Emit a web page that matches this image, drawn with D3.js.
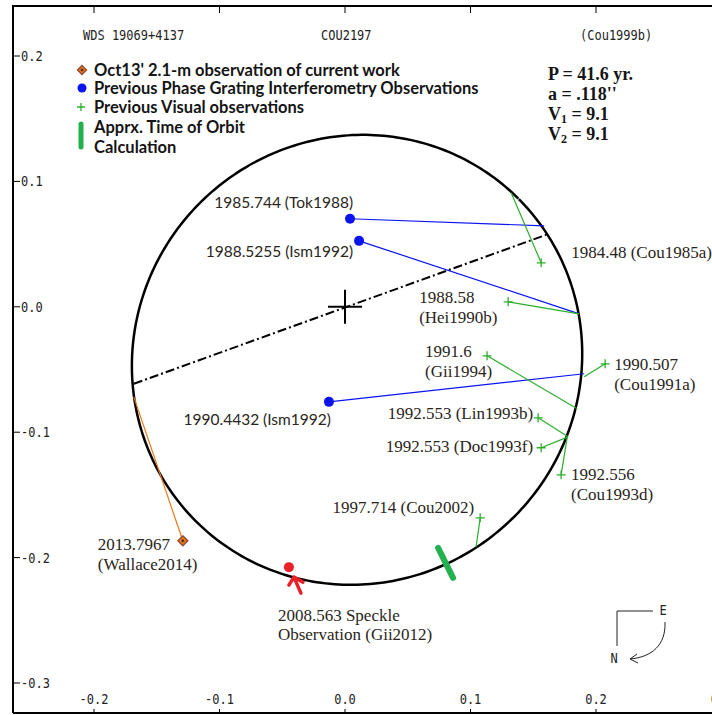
<!DOCTYPE html>
<html lang="en">
<head>
<meta charset="utf-8">
<title>WDS 19069+4137 orbit</title>
<script src="https://d3js.org/d3.v7.min.js"></script>
<style>
    body { margin: 0; background: #fff; }
    svg { display: block; }
    .mono { font-family: "DejaVu Sans Mono", "Liberation Mono", monospace; font-size: 12px; fill: #222; }
    .sans { font-family: Lato, "Open Sans", sans-serif; font-size: 15.5px; fill: #2a2520; }
    .serif { font-family: "Liberation Serif", serif; font-size: 17px; fill: #2a2520; }
    .legend { font-family: Lato, "Open Sans", sans-serif; font-weight: bold; font-size: 16.5px; fill: #151515; }
    .elements { font-family: "Liberation Serif", serif; font-weight: bold; font-size: 18px; fill: #151515; }
</style>
</head>
<body>
<script>
    var w = 712;
    var h = 715;

    // tick labels
    var xTicks = [-0.2, -0.1, 0.0, 0.1, 0.2, 0.3];
    var yTicks = [0.2, 0.1, 0.0, -0.1, -0.2, -0.3];

    var headerText = ["WDS 19069+4137", "COU2197", "(Cou1999b)"];
    var elementsText = ["P = 41.6 yr.", "a = .118''", "V|1| = 9.1", "V|2| = 9.1"];

    // apparent orbit (arcsec): centre, semi-axes, tilt of major axis (deg), line of nodes
    var orbitCenter = [0.0096, -0.0423];
    var orbitAxes = [0.1818, 0.1770];
    var orbitTilt = 45;
    var nodeLine = [[-0.1683, -0.0614], [0.1603, 0.0574]];

    // phase grating interferometry observations, with their point on the orbit
    var pgiLabels = ["1985.744 (Tok1988)", "1988.5255 (Ism1992)", "1990.4432 (Ism1992)"];
    var pgiX = [0.0040, 0.0112, -0.0128];
    var pgiY = [0.0702, 0.0526, -0.0758];
    var pgiOrbitX = [0.1587, 0.1866, 0.1906];
    var pgiOrbitY = [0.0646, -0.0056, -0.0534];

    // visual observations
    var visLabels = [["1984.48 (Cou1985a)"], ["1988.58", "(Hei1990b)"], ["1991.6", "(Gii1994)"],
        ["1990.507", "(Cou1991a)"], ["1992.553 (Lin1993b)"], ["1992.553 (Doc1993f)"],
        ["1992.556", "(Cou1993d)"], ["1997.714 (Cou2002)"]];
    var visX = [0.1563, 0.1300, 0.1132, 0.2073, 0.1539, 0.1563, 0.1722, 0.1077];
    var visY = [0.0351, 0.0040, -0.0391, -0.0455, -0.0885, -0.1124, -0.1340, -0.1683];
    var visOrbitX = [0.1324, 0.1866, 0.1850, 0.1906, 0.1778, 0.1778, 0.1770, 0.1045];
    var visOrbitY = [0.0909, -0.0056, -0.0813, -0.0558, -0.1037, -0.1037, -0.1045, -0.1914];

    // speckle observation
    var speckleLabel = ["2008.563 Speckle", "Observation (Gii2012)"];
    var speckleXY = [-0.0447, -0.2076];

    // current work
    var currentLabel = ["2013.7967", "(Wallace2014)"];
    var currentXY = [-0.1292, -0.1866];
    var currentOrbitXY = [-0.1683, -0.0718];

    // approx. time of orbit calculation
    var calcMark = [[0.0742, -0.1922], [0.0861, -0.2161]];

    var legendItems = ["Oct13' 2.1-m observation of current work",
        "Previous Phase Grating Interferometry Observations",
        "Previous Visual observations", "Apprx. Time of Orbit", "Calculation"];

    // label placement, pixel offsets from the marker: [dx, dy, anchor]
    var pgiLabelPos = [[3, -11, "end"], [-6, 16, "end"], [2, 23, "end"]];
    var visLabelPos = [[30, -5, "start"], [-89, 1, "start"], [-62, 1, "start"], [9, 6, "start"],
        [-5, 1, "end"], [-8, 4, "end"], [10, 5, "start"], [-6, -5, "end"]];

    var blue = "#0a14f0";
    var green = "#2cae2c";
    var orange = "#f07818";
    var red = "#e8202a";

    var xScale = d3.scaleLinear().domain([-0.2, 0.2]).range([94, 596]);
    var yScale = d3.scaleLinear().domain([0.2, -0.3]).range([56, 683]);

    var svg = d3.select("body")
        .append("svg")
        .attr("width", w)
        .attr("height", h);

    //frame
    var frame = svg.append("g").attr("stroke", "#000").attr("stroke-width", 2).attr("fill", "none");
    frame.append("path").attr("d", "M13,713 V6 H712");
    frame.append("path").attr("d", "M13,713 H712");

    //the bitmap-like font of the plot program is tall and narrow
    function monoText(x, y, s, anchor) {
        return svg.append("text")
            .attr("class", "mono")
            .attr("text-anchor", anchor || "start")
            .attr("transform", "translate(" + x + "," + y + ") scale(1,1.2)")
            .text(s);
    }
    var fmt = function(d) { return d3.format(".1f")(d).replace("−", "-"); };

    //ticks and labels
    svg.selectAll(".ytick")
        .data(yTicks)
        .enter()
        .append("line")
        .attr("x1", 13).attr("x2", 20)
        .attr("y1", function(d) { return yScale(d); })
        .attr("y2", function(d) { return yScale(d); })
        .attr("stroke", "#000");
    yTicks.forEach(function(d) { monoText(21, yScale(d) + 5, fmt(d)); });

    svg.selectAll(".xtick")
        .data(xTicks)
        .enter()
        .append("line")
        .attr("x1", function(d) { return xScale(d); })
        .attr("x2", function(d) { return xScale(d); })
        .attr("y1", 6).attr("y2", 13)
        .attr("stroke", "#000");

    svg.selectAll(".xtickb")
        .data(xTicks)
        .enter()
        .append("line")
        .attr("x1", function(d) { return xScale(d); })
        .attr("x2", function(d) { return xScale(d); })
        .attr("y1", 709).attr("y2", 712)
        .attr("stroke", "#000");
    xTicks.forEach(function(d) { monoText(xScale(d), 704, fmt(d), "middle"); });

    //header line
    monoText(83, 40, headerText[0]);
    monoText(321, 40, headerText[1]);
    monoText(580, 40, headerText[2]);

    //orbital elements, |n| marks a subscript
    elementsText.forEach(function(t, i) {
        var txt = svg.append("text").attr("class", "elements").attr("x", 548).attr("y", 80 + i * 20);
        t.split("|").forEach(function(part, j) {
            var ts = txt.append("tspan").text(part);
            if (j === 1) ts.attr("font-size", 12).attr("dy", 3);
            if (j === 2) ts.attr("dy", -3);
        });
    });

    //orbit ellipse
    var phi = orbitTilt * Math.PI / 180;
    var orbitLine = d3.line()
        .x(function(t) {
            return xScale(orbitCenter[0] + orbitAxes[0] * Math.cos(t) * Math.cos(phi) - orbitAxes[1] * Math.sin(t) * Math.sin(phi));
        })
        .y(function(t) {
            return yScale(orbitCenter[1] + orbitAxes[0] * Math.cos(t) * Math.sin(phi) + orbitAxes[1] * Math.sin(t) * Math.cos(phi));
        });
    svg.append("path")
        .attr("d", orbitLine(d3.range(0, 2 * Math.PI + 0.01, 0.02)))
        .attr("fill", "none")
        .attr("stroke", "#000")
        .attr("stroke-width", 2.5);

    //line of nodes
    svg.append("line")
        .attr("x1", xScale(nodeLine[0][0])).attr("y1", yScale(nodeLine[0][1]))
        .attr("x2", xScale(nodeLine[1][0])).attr("y2", yScale(nodeLine[1][1]))
        .attr("stroke", "#000")
        .attr("stroke-width", 2)
        .attr("stroke-dasharray", "9,3,2,3");

    //primary
    svg.append("path")
        .attr("d", "M" + (xScale(0) - 17) + "," + yScale(0) + "h34M" + xScale(0) + "," + (yScale(0) - 17) + "v34")
        .attr("stroke", "#000")
        .attr("stroke-width", 2);

    //residual lines
    var pgi = pgiX.map(function(d, i) { return i; });
    svg.selectAll(".pgiLine")
        .data(pgi)
        .enter()
        .append("line")
        .attr("x1", function(i) { return xScale(pgiX[i]); })
        .attr("y1", function(i) { return yScale(pgiY[i]); })
        .attr("x2", function(i) { return xScale(pgiOrbitX[i]); })
        .attr("y2", function(i) { return yScale(pgiOrbitY[i]); })
        .attr("stroke", blue)
        .attr("stroke-width", 1.2);

    var vis = visX.map(function(d, i) { return i; });
    svg.selectAll(".visLine")
        .data(vis)
        .enter()
        .append("line")
        .attr("x1", function(i) { return xScale(visX[i]); })
        .attr("y1", function(i) { return yScale(visY[i]); })
        .attr("x2", function(i) { return xScale(visOrbitX[i]); })
        .attr("y2", function(i) { return yScale(visOrbitY[i]); })
        .attr("stroke", green)
        .attr("stroke-width", 1.2);

    svg.append("line")
        .attr("x1", xScale(currentXY[0])).attr("y1", yScale(currentXY[1]))
        .attr("x2", xScale(currentOrbitXY[0])).attr("y2", yScale(currentOrbitXY[1]))
        .attr("stroke", orange)
        .attr("stroke-width", 1.2);

    //orbit calculation mark
    svg.append("line")
        .attr("x1", xScale(calcMark[0][0])).attr("y1", yScale(calcMark[0][1]))
        .attr("x2", xScale(calcMark[1][0])).attr("y2", yScale(calcMark[1][1]))
        .attr("stroke", "#22b14c")
        .attr("stroke-width", 6)
        .attr("stroke-linecap", "round");

    //markers
    svg.selectAll(".pgiDot")
        .data(pgi)
        .enter()
        .append("circle")
        .attr("cx", function(i) { return xScale(pgiX[i]); })
        .attr("cy", function(i) { return yScale(pgiY[i]); })
        .attr("r", 5)
        .attr("fill", blue);

    function plus(x, y, s) {
        return "M" + (x - s) + "," + y + "h" + (2 * s) + "M" + x + "," + (y - s) + "v" + (2 * s);
    }

    svg.selectAll(".visPlus")
        .data(vis)
        .enter()
        .append("path")
        .attr("d", function(i) { return plus(xScale(visX[i]), yScale(visY[i]), 4.5); })
        .attr("stroke", green)
        .attr("stroke-width", 1.3);

    function diamond(g, x, y, s) {
        g.append("path")
            .attr("d", "M" + x + "," + (y - s) + "L" + (x + s) + "," + y + "L" + x + "," + (y + s) + "L" + (x - s) + "," + y + "Z")
            .attr("fill", orange)
            .attr("stroke", "#8a4a3a")
            .attr("stroke-width", 1.3);
        g.append("path")
            .attr("d", plus(x, y, 1.5))
            .attr("stroke", "#222")
            .attr("stroke-width", 1);
    }
    diamond(svg, xScale(currentXY[0]), yScale(currentXY[1]), 5);

    var sx = xScale(speckleXY[0]);
    var sy = yScale(speckleXY[1]);
    svg.append("circle").attr("cx", sx).attr("cy", sy).attr("r", 5).attr("fill", red);
    svg.append("path")
        .attr("d", "M" + (sx + 12) + "," + (sy + 26) + "L" + (sx + 5) + "," + (sy + 10) +
            "M" + sx + "," + (sy + 18) + "L" + (sx + 5) + "," + (sy + 10) + "L" + (sx + 14) + "," + (sy + 15))
        .attr("fill", "none")
        .attr("stroke", red)
        .attr("stroke-width", 3.5)
        .attr("stroke-linecap", "round")
        .attr("stroke-linejoin", "round");

    //labels
    function addLabel(cls, x, y, lines, anchor, lh) {
        var t = svg.append("text").attr("class", cls).attr("text-anchor", anchor);
        lines.forEach(function(s, k) {
            t.append("tspan").attr("x", x).attr("y", y + k * lh).text(s);
        });
    }

    pgi.forEach(function(i) {
        var p = pgiLabelPos[i];
        addLabel("sans", xScale(pgiX[i]) + p[0], yScale(pgiY[i]) + p[1], [pgiLabels[i]], p[2], 20);
    });
    vis.forEach(function(i) {
        var p = visLabelPos[i];
        addLabel("serif", xScale(visX[i]) + p[0], yScale(visY[i]) + p[1], visLabels[i], p[2], 20);
    });
    addLabel("serif", sx - 11, sy + 54, speckleLabel, "start", 19);
    addLabel("serif", xScale(currentXY[0]) - 85, yScale(currentXY[1]) + 9, currentLabel, "start", 20);

    //legend
    var lg = svg.append("g");
    diamond(lg, 82, 70, 4.5);
    lg.append("circle").attr("cx", 82).attr("cy", 88).attr("r", 4.5).attr("fill", blue);
    lg.append("path").attr("d", plus(81, 107, 4)).attr("stroke", green).attr("stroke-width", 1.3);
    lg.append("line").attr("x1", 81).attr("x2", 81).attr("y1", 124).attr("y2", 147)
        .attr("stroke", "#22b14c").attr("stroke-width", 5).attr("stroke-linecap", "round");
    var legendY = [76, 94, 113, 133, 153];
    legendItems.forEach(function(s, i) {
        lg.append("text").attr("class", "legend").attr("x", 94).attr("y", legendY[i]).text(s);
    });

    //compass
    var cp = svg.append("g").attr("fill", "none").attr("stroke", "#222").attr("stroke-width", 1);
    cp.append("path").attr("d", "M617,646V611H653");
    cp.append("path").attr("d", "M665,622C666,645 652,657 630,659");
    cp.append("path").attr("d", "M637,654L630,659L638,663");
    monoText(663, 615, "E", "middle");
    monoText(614, 663, "N", "middle");
</script>
</body>
</html>
